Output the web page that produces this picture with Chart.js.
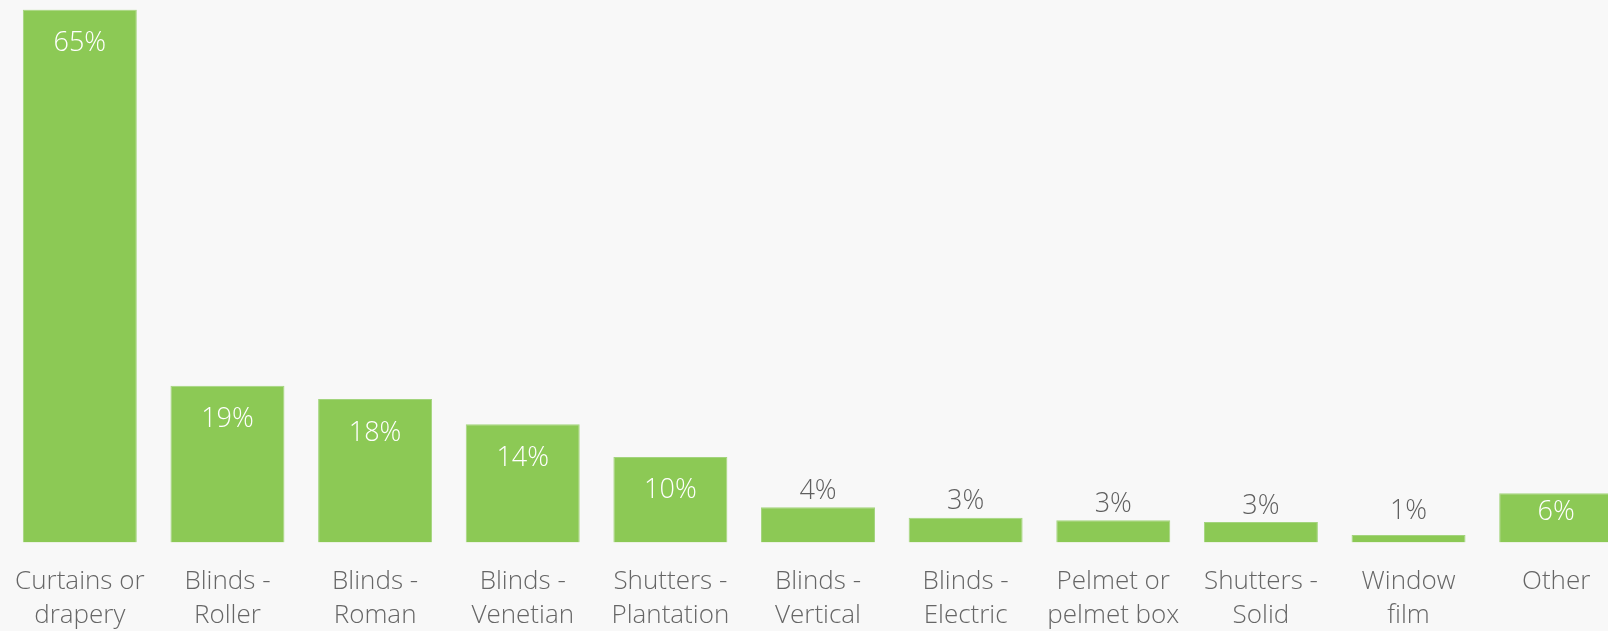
<!DOCTYPE html>
<html>
<head>
<meta charset="utf-8">
<script src="https://cdn.jsdelivr.net/npm/chart.js@4.4.1/dist/chart.umd.min.js"></script>
<style>
    html, body { margin: 0; padding: 0; background: #f8f8f8; overflow: hidden; }
    #wrap { width: 1640px; height: 631px; }
</style>
</head>
<body>
<div id="wrap"><canvas id="treatmentsChart" width="1640" height="631"></canvas></div>
<script>
// Window treatments used (share of respondents, %)
const categories = [
    ['Curtains or', 'drapery'],
    ['Blinds -', 'Roller'],
    ['Blinds -', 'Roman'],
    ['Blinds -', 'Venetian'],
    ['Shutters -', 'Plantation'],
    ['Blinds -', 'Vertical'],
    ['Blinds -', 'Electric'],
    ['Pelmet or', 'pelmet box'],
    ['Shutters -', 'Solid'],
    ['Window', 'film'],
    ['Other']
];
const shares = [65, 19.1, 17.5, 14.4, 10.4, 4.3, 3.0, 2.7, 2.5, 0.9, 6.0];

const BAR_GREEN = '#8cc955';
const LABEL_GREY = '#5f5f5f';
const INSIDE_MIN = 5;
const FONT_STACK = '"Open Sans", Lato, sans-serif';

/**
 * Percent labels: white inside the taller bars, grey above the short ones
 */
const valueLabels = {
    id: 'valueLabels',
    afterDatasetsDraw(chart) {
        const ctx = chart.ctx;
        const meta = chart.getDatasetMeta(0);
        const base = chart.chartArea.bottom;
        ctx.save();
        ctx.font = '300 27px ' + FONT_STACK;
        ctx.textAlign = 'center';
        ctx.textBaseline = 'middle';
        meta.data.forEach((bar, i) => {
            const v = shares[i];
            const text = Math.round(v) + '%';
            const h = base - bar.y;
            let y;
            if (v >= INSIDE_MIN) {
                ctx.fillStyle = '#ffffff';
                y = bar.y + Math.min(34, h * 0.39);
            } else {
                ctx.fillStyle = LABEL_GREY;
                y = Math.min(bar.y - 16, base - 31);
            }
            ctx.fillText(text, bar.x, y);
        });
        ctx.restore();
    }
};

new Chart(document.getElementById('treatmentsChart'), {
    type: 'bar',
    data: {
        labels: categories,
        datasets: [{
            data: shares,
            backgroundColor: BAR_GREEN,
            borderColor: '#a3d47d',
            borderWidth: 1,
            categoryPercentage: 1,
            barPercentage: 0.772
        }]
    },
    options: {
        responsive: false,
        animation: false,
        layout: {padding: {top: 9.5, left: 6, right: 10, bottom: -23.5}},
        plugins: {
            legend: {display: false},
            tooltip: {enabled: false}
        },
        scales: {
            x: {
                grid: {display: false, drawTicks: false},
                border: {display: false},
                // keep the bars on an even pitch regardless of label widths
                afterFit: scale => { scale.paddingLeft = 0; scale.paddingRight = 0; },
                ticks: {
                    autoSkip: false,
                    maxRotation: 0,
                    padding: 22,
                    color: '#666666',
                    font: {family: FONT_STACK, size: 26, weight: '300', lineHeight: 1.31}
                }
            },
            y: {
                display: false,
                min: 0,
                max: Math.max(...shares)
            }
        }
    },
    plugins: [valueLabels]
});
</script>
</body>
</html>
